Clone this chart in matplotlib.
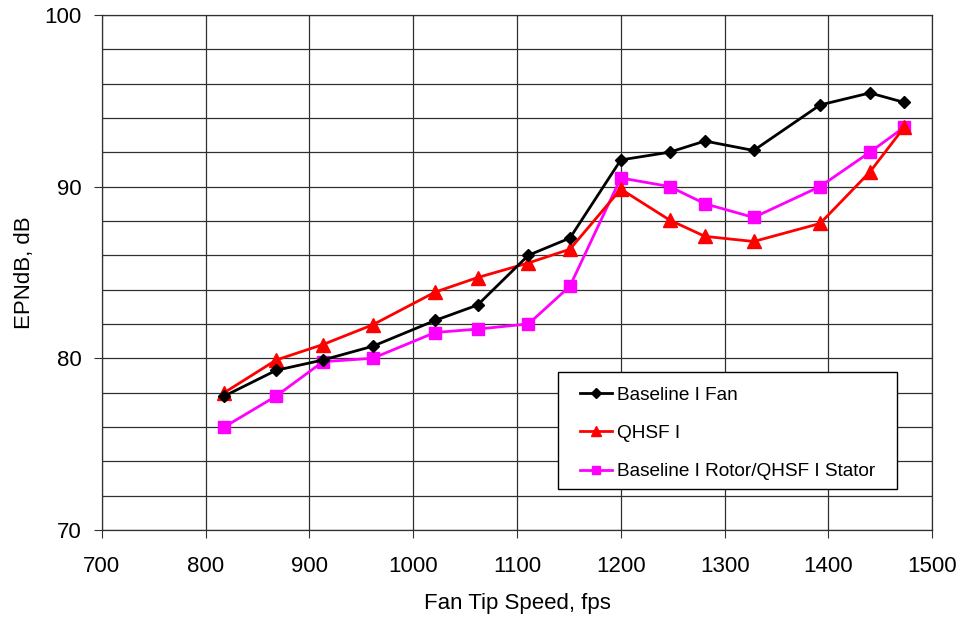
import matplotlib
matplotlib.use("Agg")
import matplotlib.pyplot as plt
from matplotlib.ticker import MultipleLocator
from matplotlib.patches import Rectangle

plt.rcParams['font.family'] = ['Liberation Sans', 'DejaVu Sans']

speed = [818, 868, 913, 961, 1021, 1062, 1111, 1151, 1200, 1247, 1281, 1328, 1392, 1440, 1473]
baseline_fan = [77.8, 79.3, 79.9, 80.7, 82.2, 83.1, 86.0, 87.0, 91.55, 92.0, 92.65, 92.1, 94.75, 95.45, 94.9]
qhsf = [78.0, 79.9, 80.8, 81.95, 83.85, 84.7, 85.55, 86.35, 89.85, 88.05, 87.1, 86.8, 87.85, 90.85, 93.45]
rotor_stator = [76.0, 77.8, 79.8, 80.0, 81.5, 81.7, 82.0, 84.2, 90.5, 90.0, 89.0, 88.2, 90.0, 92.0, 93.45]

labels = ["Baseline I Fan", "QHSF I", "Baseline I Rotor/QHSF I Stator"]

fig = plt.figure(figsize=(9.7, 6.17), dpi=100)
ax = fig.add_axes([0.105, 0.141, 0.856, 0.835])

ax.plot(speed, baseline_fan, color='black', marker='D', markersize=6.5, lw=2, label=labels[0], zorder=5)
ax.plot(speed, qhsf, color='red', marker='^', markersize=9.5, lw=2, label=labels[1], zorder=4)
ax.plot(speed, rotor_stator, color='#FF00FF', marker='s', markersize=8.5, lw=2, label=labels[2], zorder=3)

ax.set_xlim(700, 1500)
ax.set_ylim(70, 100)
ax.xaxis.set_major_locator(MultipleLocator(100))
ax.yaxis.set_major_locator(MultipleLocator(10))
ax.yaxis.set_minor_locator(MultipleLocator(2))
ax.grid(True, which='major', color='#303030', lw=0.9)
ax.grid(True, which='minor', axis='y', color='#303030', lw=0.9)
ax.tick_params(which='major', direction='out', length=6, labelsize=16, color='#303030')
ax.tick_params(axis='y', which='major', pad=8.5)
ax.tick_params(axis='x', which='major', pad=13)
ax.tick_params(which='minor', length=0)
for s in ax.spines.values():
    s.set_color('#303030')
    s.set_linewidth(0.9)

ax.set_xlabel("Fan Tip Speed, fps", fontsize=16, labelpad=11)
ax.set_ylabel("EPNdB, dB", fontsize=16, labelpad=7)

# legend frame
ax.add_patch(Rectangle((0.5494, 0.0796), 0.4084, 0.2272, transform=ax.transAxes,
                       facecolor='white', edgecolor='black', lw=1.0, zorder=9))
leg = ax.legend(loc='upper left', bbox_to_anchor=(0.576, 0.279), borderaxespad=0,
                fontsize=13.7, frameon=False, borderpad=0,
                handlelength=1.7, labelspacing=1.11, handletextpad=0.25, markerscale=0.72)
leg.set_zorder(10)

fig.savefig("out.png", dpi=100)
